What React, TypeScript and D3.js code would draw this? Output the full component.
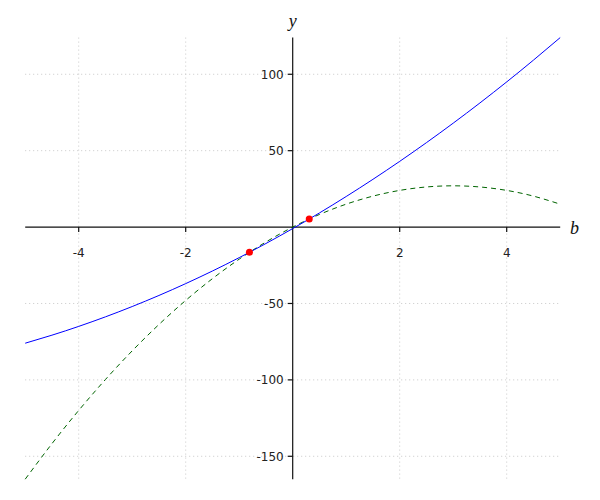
import React from "react";
import * as d3 from "d3";

const xValues = [-5, -4.5, -4, -3.5, -3, -2.5, -2, -1.5, -1, -0.5, 0, 0.5, 1, 1.5, 2, 2.5, 3, 3.5, 4, 4.5, 5];
const blueValues = [-76, -70.75, -65, -58.75, -52, -44.75, -37, -28.75, -20, -10.75, -1, 9.25, 20, 31.25, 43, 55.25, 68, 81.25, 95, 109.25, 124];
const greenValues = [-165, -141.75, -120, -99.75, -81, -63.75, -48, -33.75, -21, -9.75, 0, 8.25, 15, 20.25, 24, 26.25, 27, 26.25, 24, 20.25, 15];
const pointX = [-0.809, 0.309];
const pointY = [-16.53, 5.28];
const xTicks = [-4, -2, 2, 4];
const yTicks = [-150, -100, -50, 50, 100];
const xDomain = [-5, 5];
const yDomain = [-165, 124];

export default function App() {
  const x = d3.scaleLinear().domain(xDomain).range([25.2, 560.2]);
  const y = d3.scaleLinear().domain(yDomain).range([479.2, 37.6]);
  const line = (vals: number[]) =>
    d3
      .line<number>()
      .x((_, i) => x(xValues[i]))
      .y((d) => y(d))
      .curve(d3.curveNatural)(vals) as string;
  const [x0, x1] = x.range();
  const [yb, yt] = y.range();
  const font = "'DejaVu Sans', sans-serif";
  return (
    <svg
      width={600}
      height={500}
      style={{ position: "absolute", left: 0, top: 0, background: "#fff" }}
    >
      <rect width={600} height={500} fill="#fff" />
      {xTicks.map((t) => (
        <line key={"gx" + t} x1={x(t)} x2={x(t)} y1={yt} y2={yb} stroke="#c8c8c8" strokeWidth={1} strokeDasharray="1,3" />
      ))}
      {yTicks.map((t) => (
        <line key={"gy" + t} x1={x0} x2={x1} y1={y(t)} y2={y(t)} stroke="#c8c8c8" strokeWidth={1} strokeDasharray="1,3" />
      ))}
      {/* axes */}
      <line x1={x0} x2={x1} y1={y(0)} y2={y(0)} stroke="#111" strokeWidth={1.2} />
      <line x1={x(0)} x2={x(0)} y1={yt} y2={yb} stroke="#111" strokeWidth={1.2} />
      {xTicks.map((t) => (
        <g key={"tx" + t}>
          <line x1={x(t)} x2={x(t)} y1={y(0)} y2={y(0) + 5} stroke="#111" strokeWidth={1.2} />
          <text x={x(t)} y={y(0) + 30} textAnchor="middle" fontFamily={font} fontSize={12} fill="#222">
            {String(t)}
          </text>
        </g>
      ))}
      {yTicks.map((t) => (
        <g key={"ty" + t}>
          <line x1={x(0) - 5} x2={x(0)} y1={y(t)} y2={y(t)} stroke="#111" strokeWidth={1.2} />
          <text x={x(0) - 9} y={y(t)} dy="0.36em" textAnchor="end" fontFamily={font} fontSize={12} fill="#222">
            {String(t)}
          </text>
        </g>
      ))}
      <text x={x(0)} y={27} textAnchor="middle" fontFamily="'Liberation Serif', serif" fontStyle="italic" fontSize={18} fill="#111">
        y
      </text>
      <text x={570} y={234} fontFamily="'Liberation Serif', serif" fontStyle="italic" fontSize={18} fill="#111">
        b
      </text>
      <path d={line(greenValues)} fill="none" stroke="#006400" strokeWidth={1} strokeDasharray="5,4" />
      <path d={line(blueValues)} fill="none" stroke="#0000ff" strokeWidth={1} />
      {pointX.map((px, i) => (
        <circle key={"p" + i} cx={x(px)} cy={y(pointY[i])} r={3.5} fill="#ff0000" />
      ))}
    </svg>
  );
}
